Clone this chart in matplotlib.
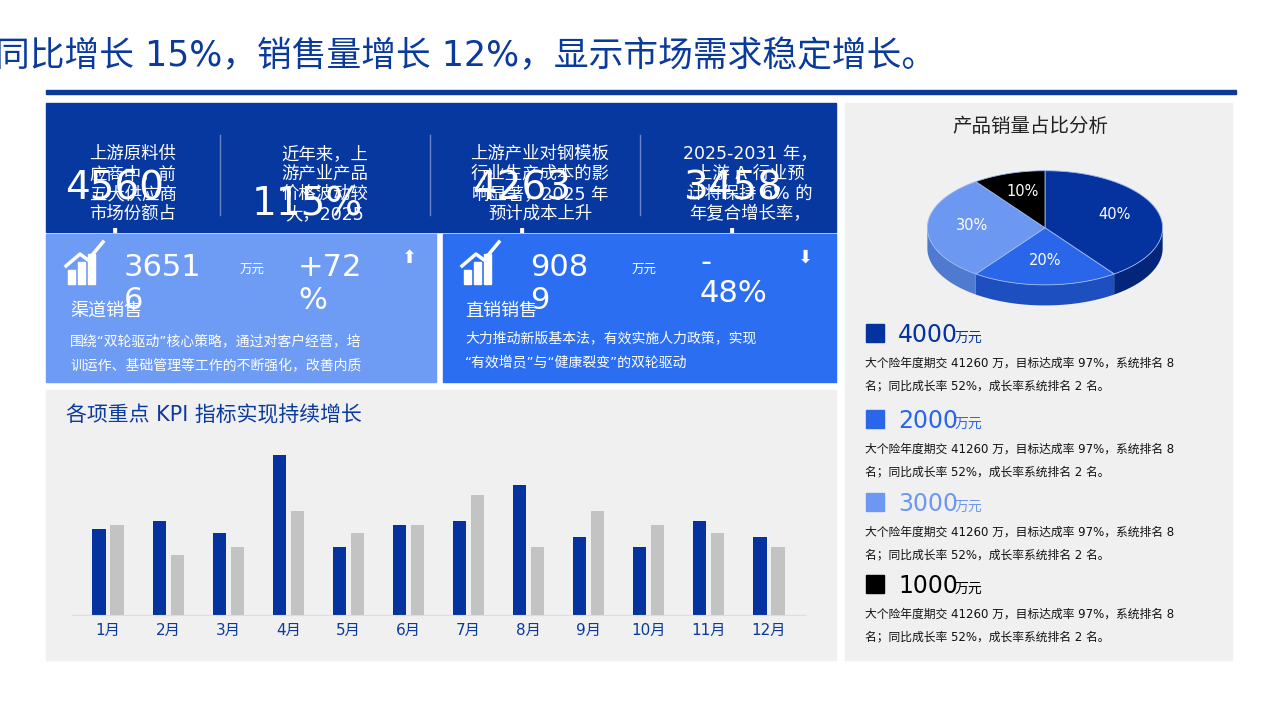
import matplotlib
matplotlib.use("Agg")
import matplotlib.pyplot as plt
from matplotlib.patches import Rectangle
import numpy as np

plt.rcParams['font.family'] = ['DejaVu Sans', 'Noto Sans CJK SC']

months = ["1月","2月","3月","4月","5月","6月","7月","8月","9月","10月","11月","12月"]
series_a = [86, 94, 82, 160, 68, 90, 94, 130, 78, 68, 94, 78]
series_b = [90, 60, 68, 104, 82, 90, 120, 68, 104, 90, 82, 68]
pie_labels = ["40%", "20%", "30%", "10%"]
pie_values = [40, 20, 30, 10]
legend_values = ["4000", "2000", "3000", "1000"]
top_texts = ["上游原料供\n应商中，前\n五大供应商\n市场份额占",
             "近年来，上\n游产业产品\n价格波动较\n大，2025",
             "上游产业对钢模板\n行业生产成本的影\n响显著，2025 年\n预计成本上升",
             "2025-2031 年，\n上游 A 行业预\n计将保持 6% 的\n年复合增长率，"]
top_numbers = ["4560\n.", "115%", "4263\n.", "3458\n."]

W, H = 1280, 719
fig = plt.figure(figsize=(W/100, H/100), dpi=100)
fig.patch.set_facecolor("white")

def fx(x): return x / W
def fy(y): return 1 - y / H
def rect(x0, y0, x1, y1, color, z=-2):
    fig.patches.append(Rectangle((fx(x0), fy(y1)), fx(x1-x0), (y1-y0)/H,
                                 transform=fig.transFigure, color=color, zorder=z))
def txt(x, y, s, **kw):
    fig.text(fx(x), fy(y), s, **kw)

DARK = "#07389f"; MID = "#2b6ef2"; LIGHT = "#6e9cf5"; GREY = "#f0f0f0"

txt(-5, 56, "同比增长 15%，销售量增长 12%，显示市场需求稳定增长。", fontsize=25,
    color="#0a3a9c", va="center", ha="left")
rect(46, 90, 1236, 94, "#0a3a9c")

rect(46, 103, 836, 232, DARK)
rect(46, 234, 436, 382, LIGHT)
rect(443, 234, 836, 382, MID)
rect(46, 390, 836, 660, GREY)
rect(845, 103, 1232, 660, GREY)

cols = [133, 325, 540, 750]
for i, c in enumerate(cols):
    txt(c, 184, top_texts[i], fontsize=12.5, color="white", ha="center", va="center", linespacing=1.15)
    txt(c - 18, 205, top_numbers[i], fontsize=28, color="white", ha="center", va="center", linespacing=0.85)
for sx in [220, 430, 640]:
    fig.add_artist(plt.Line2D([fx(sx), fx(sx)], [fy(135), fy(215)], color="#6b86c8", lw=1, transform=fig.transFigure))

def icon(x, y):
    for k, h in enumerate([14, 22, 30]):
        rect(x + k*10, y - h, x + k*10 + 7, y, "white", z=-1)
    fig.add_artist(plt.Line2D([fx(x-2), fx(x+12), fx(x+20), fx(x+35)],
                              [fy(y-18), fy(y-30), fy(y-24), fy(y-42)],
                              color="white", lw=2.5, transform=fig.transFigure))

icon(68, 284); icon(464, 284)
txt(124, 284, "3651\n6", fontsize=22, color="white", va="center", ha="left", linespacing=1.2)
txt(240, 270, "万元", fontsize=9, color="white", va="center")
txt(298, 284, "+72\n%", fontsize=22, color="white", va="center", linespacing=1.2)
txt(70, 311, "渠道销售", fontsize=13, color="white", va="center")
txt(70, 341, "围绕“双轮驱动”核心策略，通过对客户经营，培", fontsize=10, color="white", va="center")
txt(70, 366, "训运作、基础管理等工作的不断强化，改善内质", fontsize=10, color="white", va="center")
txt(409, 258, "⬆", fontsize=13, color="white", ha="center", va="center")

txt(530, 284, "908\n9", fontsize=22, color="white", va="center", ha="left", linespacing=1.2)
txt(632, 270, "万元", fontsize=9, color="white", va="center")
txt(700, 278, "-\n48%", fontsize=22, color="white", va="center", linespacing=1.1)
txt(465, 311, "直销销售", fontsize=13, color="white", va="center")
txt(465, 338, "大力推动新版基本法，有效实施人力政策，实现", fontsize=10, color="white", va="center")
txt(465, 362, "“有效增员”与“健康裂变”的双轮驱动", fontsize=10, color="white", va="center")
txt(805, 258, "⬇", fontsize=13, color="white", ha="center", va="center")

txt(66, 415, "各项重点 KPI 指标实现持续增长", fontsize=15, color="#0a3a9c", va="center")

ax = fig.add_axes([fx(72), fy(615), fx(805-72), (615-440)/H])
ax.set_facecolor(GREY)
x = np.arange(len(months))
ax.bar(x - 0.15, series_a, width=0.22, color="#0433a0")
ax.bar(x + 0.15, series_b, width=0.22, color="#c3c3c3")
ax.set_xlim(-0.6, 11.6); ax.set_ylim(0, 175)
ax.set_xticks(x); ax.set_xticklabels(months, color="#0a3a9c", fontsize=11)
ax.tick_params(length=0, pad=6)
ax.set_yticks([])
for s in ["top", "left", "right"]:
    ax.spines[s].set_visible(False)
ax.spines["bottom"].set_color("#dddddd")

txt(1030, 126, "产品销量占比分析", fontsize=14, color="#222222", ha="center", va="center")
pax = fig.add_axes([fx(925), fy(310), fx(1165-925), (310-165)/H])
pax.set_facecolor("none")
colors = ["#0433a0", "#2a66ea", "#6d98f2", "#000000"]
side = ["#03267a", "#1d4fc0", "#4f7ad0", "#000000"]
sq = 0.5
theta0 = 90
angs = np.cumsum([0] + pie_values) / 100 * 360
for k in range(len(pie_values)):
    a1 = theta0 - angs[k+1]; a2 = theta0 - angs[k]
    t = np.linspace(np.radians(a1), np.radians(a2), 60)
    xs = np.cos(t); ys = np.sin(t) * sq
    vis = np.sin(t) < 0
    if vis.any():
        tv = t[vis]
        xv = np.cos(tv); yv = np.sin(tv) * sq
        pax.fill(np.concatenate([xv, xv[::-1]]), np.concatenate([yv, yv[::-1] - 0.18]),
                 color=side[k], lw=0)
    pax.fill(np.concatenate([[0], xs, [0]]), np.concatenate([[0], ys, [0]]),
             color=colors[k], ec="#9fb8ee", lw=0.6)
    mid = np.radians((a1 + a2) / 2)
    pax.text(0.62*np.cos(mid), 0.62*np.sin(mid)*sq + 0.02, pie_labels[k], color="white",
             ha="center", va="center", fontsize=10.5)
pax.set_xlim(-1.02, 1.02); pax.set_ylim(-0.72, 0.55)
pax.axis("off")

leg_y = [334, 420, 503, 585]
for i in range(4):
    y = leg_y[i]
    rect(866, y - 10, 884, y + 8, colors[i], z=-1)
    txt(898, y + 1, legend_values[i], fontsize=17, color=colors[i], va="center")
    txt(955, y + 4, "万元", fontsize=10, color=colors[i], va="center")
    txt(865, y + 29, "大个险年度期交 41260 万，目标达成率 97%，系统排名 8", fontsize=8.5, color="#111111", va="center")
    txt(865, y + 52, "名；同比成长率 52%，成长率系统排名 2 名。", fontsize=8.5, color="#111111", va="center")

fig.savefig("out.png", dpi=100)
